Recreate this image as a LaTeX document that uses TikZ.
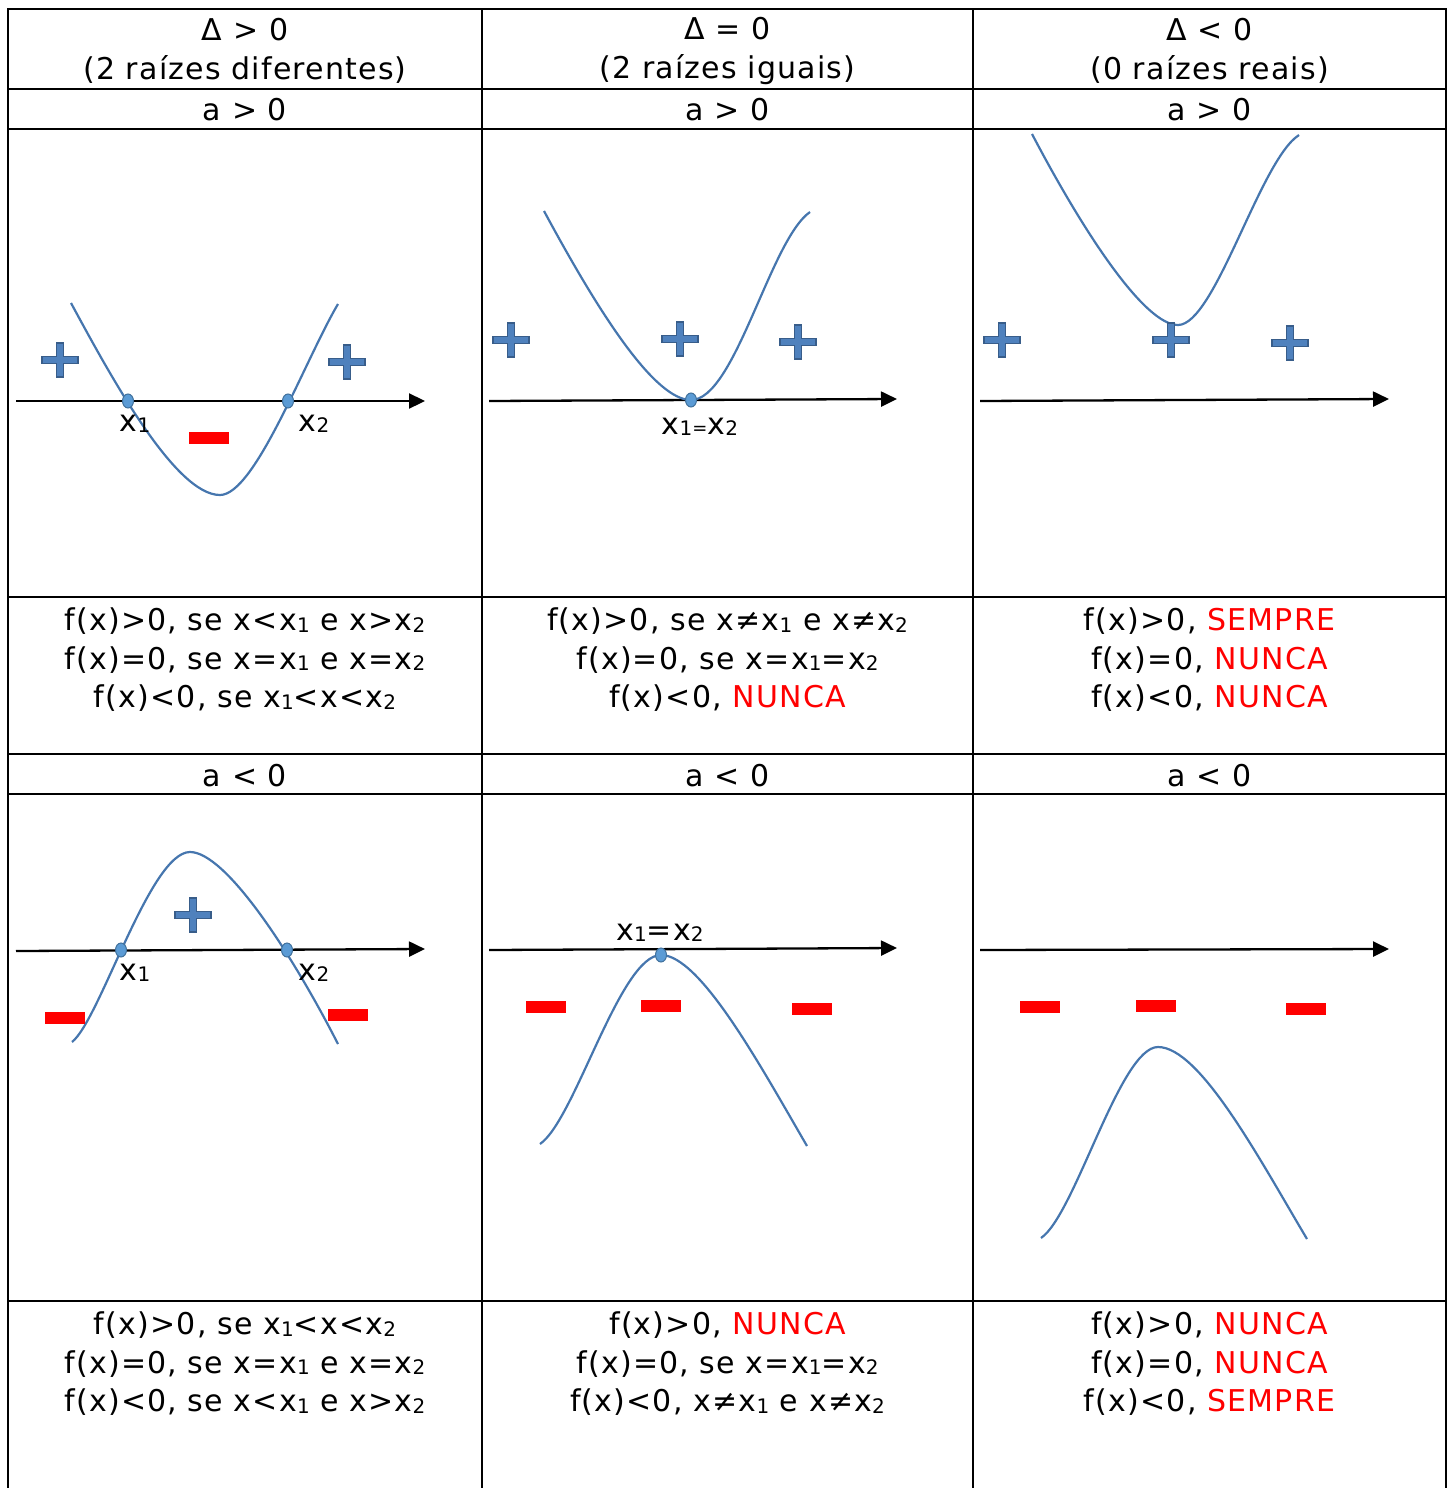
\documentclass[tikz,border=0pt]{standalone}
\usepackage{fontspec}
\setmainfont{DejaVu Sans}[LetterSpace=4]
\usetikzlibrary{arrows.meta, shapes.geometric}
\definecolor{curveblue}{RGB}{70,118,174}
\definecolor{plusblue}{RGB}{79,129,189}
\definecolor{plusedge}{RGB}{56,93,138}
\definecolor{dotblue}{RGB}{91,155,213}
\definecolor{dotedge}{RGB}{65,113,156}
\newcommand{\sbx}[1]{\raisebox{-1.5pt}{\fontsize{20}{20}\selectfont #1}}

\begin{document}
\begin{tikzpicture}[
    x=1pt, y=-1pt,
    grid/.style={line width=2.2pt, black},
    axis/.style={line width=2.3pt, -{Triangle[length=16pt,width=15pt]}},
    curve/.style={line width=2.2pt, color=curveblue},
    root/.style={ellipse, draw=dotedge, fill=dotblue, line width=1pt,
        minimum width=11pt, minimum height=14pt, inner sep=0pt},
    txt/.style={font=\fontsize{30}{38.5}\selectfont, align=center, inner sep=0pt},
    lbl/.style={font=\fontsize{30}{30}\selectfont, inner sep=0pt},
    neg/.style={rectangle, fill=red, minimum width=40pt, minimum height=12pt, inner sep=0pt},
    possign/.pic={\filldraw[fill=plusblue, draw=plusedge, line width=1.2pt]
        (-18,-3.5) -- (-3.5,-3.5) -- (-3.5,-17) -- (3.5,-17) -- (3.5,-3.5) -- (18,-3.5)
        -- (18,3.5) -- (3.5,3.5) -- (3.5,17) -- (-3.5,17) -- (-3.5,3.5) -- (-18,3.5) -- cycle;}
]
\useasboundingbox (0,0) rectangle (1453,1488);

% table
\draw[grid] (8,1488) -- (8,9) -- (1446,9) -- (1446,1488);
\draw[grid] (482,9) -- (482,1488);
\draw[grid] (973,9) -- (973,1488);
\draw[grid] (8,89) -- (1446,89);
\draw[grid] (8,129) -- (1446,129);
\draw[grid] (8,597) -- (1446,597);
\draw[grid] (8,754) -- (1446,754);
\draw[grid] (8,794) -- (1446,794);
\draw[grid] (8,1301) -- (1446,1301);

\node[txt] (h1) at (245,51) {Δ > 0\\(2 raízes diferentes)};
\node[txt] (h2) at (727.5,51) {Δ = 0\\(2 raízes iguais)};
\node[txt] (h3) at (1209.5,51) {Δ < 0\\(0 raízes reais)};
\node[txt] (p1) at (245,110) {a > 0};
\node[txt] (p2) at (727.5,110) {a > 0};
\node[txt] (p3) at (1209.5,110) {a > 0};
\node[txt] (n1) at (245,776) {a < 0};
\node[txt] (n2) at (727.5,776) {a < 0};
\node[txt] (n3) at (1209.5,776) {a < 0};

\node[txt] (s1) at (245,660) {f(x)>0, se x<x\sbx1 e x>x\sbx2\\f(x)=0, se x=x\sbx1 e x=x\sbx2\\f(x)<0, se x\sbx1<x<x\sbx2};
\node[txt] (s2) at (727.5,660) {f(x)>0, se x≠x\sbx1 e x≠x\sbx2\\f(x)=0, se x=x\sbx1=x\sbx2\\f(x)<0, \textcolor{red}{NUNCA}};
\node[txt] (s3) at (1209.5,660) {f(x)>0, \textcolor{red}{SEMPRE}\\f(x)=0, \textcolor{red}{NUNCA}\\f(x)<0, \textcolor{red}{NUNCA}};
\node[txt] (t1) at (245,1364) {f(x)>0, se x\sbx1<x<x\sbx2\\f(x)=0, se x=x\sbx1 e x=x\sbx2\\f(x)<0, se x<x\sbx1 e x>x\sbx2};
\node[txt] (t2) at (727.5,1364) {f(x)>0, \textcolor{red}{NUNCA}\\f(x)=0, se x=x\sbx1=x\sbx2\\f(x)<0, x≠x\sbx1 e x≠x\sbx2};
\node[txt] (t3) at (1209.5,1364) {f(x)>0, \textcolor{red}{NUNCA}\\f(x)=0, \textcolor{red}{NUNCA}\\f(x)<0, \textcolor{red}{SEMPRE}};

% a > 0
\coordinate (a1s) at (16,401);  \coordinate (a1e) at (425,401);
\coordinate (a2s) at (489,401); \coordinate (a2e) at (897,399);
\coordinate (a3s) at (980,401); \coordinate (a3e) at (1389,399);
\draw[axis] (a1s) -- (a1e);
\draw[axis] (a2s) -- (a2e);
\draw[axis] (a3s) -- (a3e);
\draw[curve] (71,303) .. controls (110,375) and (175,495) .. (220,495)
    .. controls (255,495) and (305,360) .. (338,304);
\draw[curve] (544,211) .. controls (600,315) and (655,400) .. (691,400)
    .. controls (735,400) and (770,240) .. (810,212);
\draw[curve] (1032,134) .. controls (1085,235) and (1145,325) .. (1178,325)
    .. controls (1215,325) and (1260,160) .. (1299,135);
\node[root] (r1) at (128,401) {};
\node[root] (r2) at (288,401) {};
\node[root] (r3) at (691,400) {};
\node[lbl] (x1) at (135,424) {x\sbx1};
\node[lbl] (x2) at (314,424) {x\sbx2};
\node[lbl] (x12) at (700,427) {x\sbx1{\fontsize{18}{18}\selectfont=}x\sbx2};
\pic at (60,360) {possign};
\pic at (347,362) {possign};
\pic at (511,340) {possign};
\pic at (680,339) {possign};
\pic at (798,342) {possign};
\pic at (1002,340) {possign};
\pic at (1171,340) {possign};
\pic at (1290,343) {possign};
\node[neg] (m1) at (209,438) {};

% a < 0
\coordinate (b1s) at (16,951);  \coordinate (b1e) at (425,949);
\coordinate (b2s) at (489,950); \coordinate (b2e) at (897,948);
\coordinate (b3s) at (980,950); \coordinate (b3e) at (1389,949);
\draw[axis] (b1s) -- (b1e);
\draw[axis] (b2s) -- (b2e);
\draw[axis] (b3s) -- (b3e);
\draw[curve] (72,1042) .. controls (100,1020) and (150,852) .. (190,852)
    .. controls (225,852) and (290,950) .. (338,1044);
\draw[curve] (540,1144) .. controls (575,1120) and (620,955) .. (661,955)
    .. controls (700,955) and (760,1065) .. (807,1146);
\draw[curve] (1041,1238) .. controls (1075,1215) and (1120,1047) .. (1158,1047)
    .. controls (1200,1047) and (1260,1160) .. (1307,1239);
\node[root] (r4) at (121,950) {};
\node[root] (r5) at (287,950) {};
\node[root] (r6) at (661,955) {};
\node[lbl] (x3) at (135,973) {x\sbx1};
\node[lbl] (x4) at (314,973) {x\sbx2};
\node[lbl] (x34) at (660,933) {x\sbx1=x\sbx2};
\pic at (193,915) {possign};
\node[neg] (m2) at (65,1018) {};
\node[neg] (m3) at (348,1015) {};
\node[neg] (m4) at (546,1007) {};
\node[neg] (m5) at (661,1006) {};
\node[neg] (m6) at (812,1009) {};
\node[neg] (m7) at (1040,1007) {};
\node[neg] (m8) at (1156,1006) {};
\node[neg] (m9) at (1306,1009) {};
\end{tikzpicture}
\end{document}
